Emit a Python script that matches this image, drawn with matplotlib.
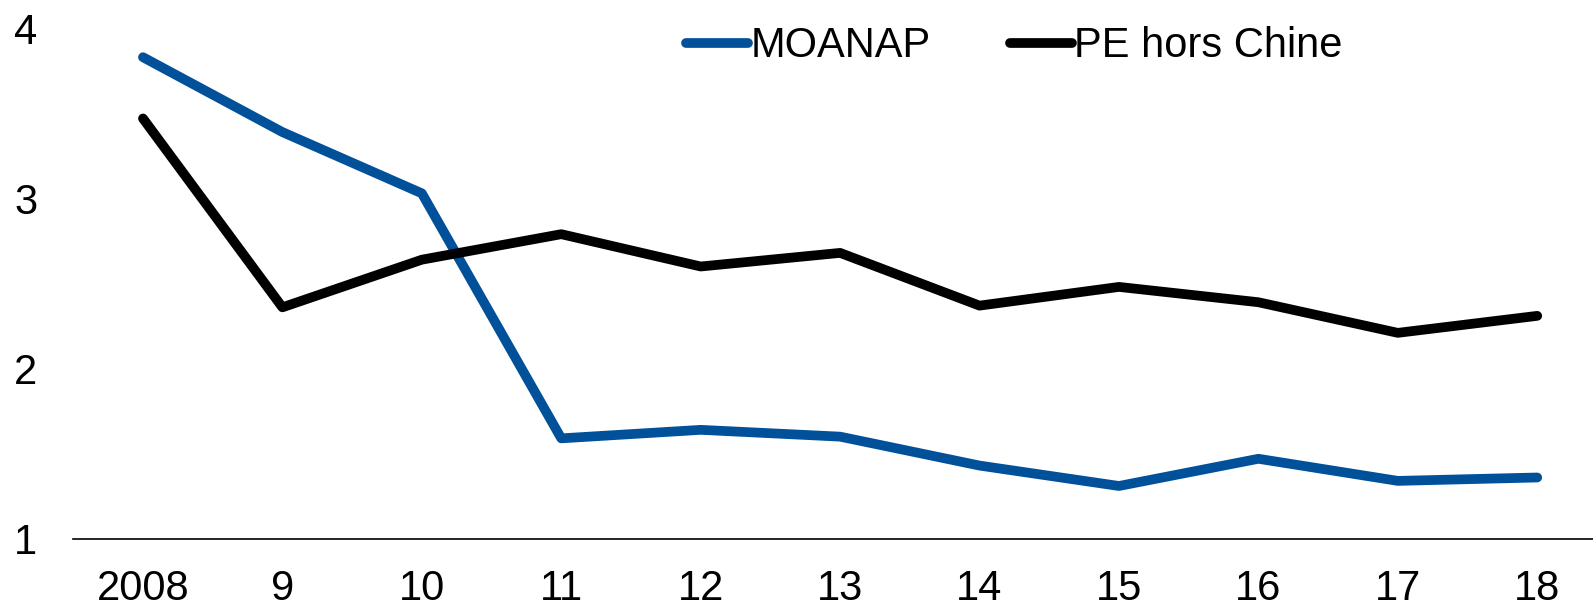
import matplotlib.pyplot as plt

plt.rcParams['font.family'] = ['Liberation Sans', 'DejaVu Sans']

# données
annees = ['2008', '9', '10', '11', '12', '13', '14', '15', '16', '17', '18']
moanap = [3.83, 3.39, 3.03, 1.59, 1.64, 1.60, 1.43, 1.31, 1.47, 1.34, 1.36]
pe_hors_chine = [3.47, 2.36, 2.64, 2.79, 2.60, 2.68, 2.37, 2.48, 2.39, 2.21, 2.31]

fig = plt.figure(figsize=(15.93, 6.15), dpi=100)
ax = fig.add_axes([0.046, 0.124, 0.954, 0.83])

x = range(len(annees))
style = dict(lw=7, solid_capstyle='round', solid_joinstyle='round', clip_on=False)
ax.plot(x, moanap, color='#00509a', label='MOANAP', **style)
ax.plot(x, pe_hors_chine, color='black', label='PE hors Chine', **style)

ax.set_ylim(1, 4)
ax.set_xlim(-0.5, 10.4)
ax.set_yticks([1, 2, 3, 4])
ax.set_xticks(list(x))
ax.set_xticklabels(annees)
ax.tick_params(length=0, labelsize=30)
ax.tick_params(axis='x', pad=22)
ax.tick_params(axis='y', pad=26)
for s in ['top', 'right', 'left']:
    ax.spines[s].set_visible(False)
ax.spines['bottom'].set_linewidth(1.2)

ax.legend(loc='center left', bbox_to_anchor=(0.403, 0.965), ncol=2, frameon=False,
          fontsize=30, handlelength=1.5, handletextpad=0.05, columnspacing=1.9,
          borderpad=0, borderaxespad=0)

fig.savefig('out.png', dpi=100)
